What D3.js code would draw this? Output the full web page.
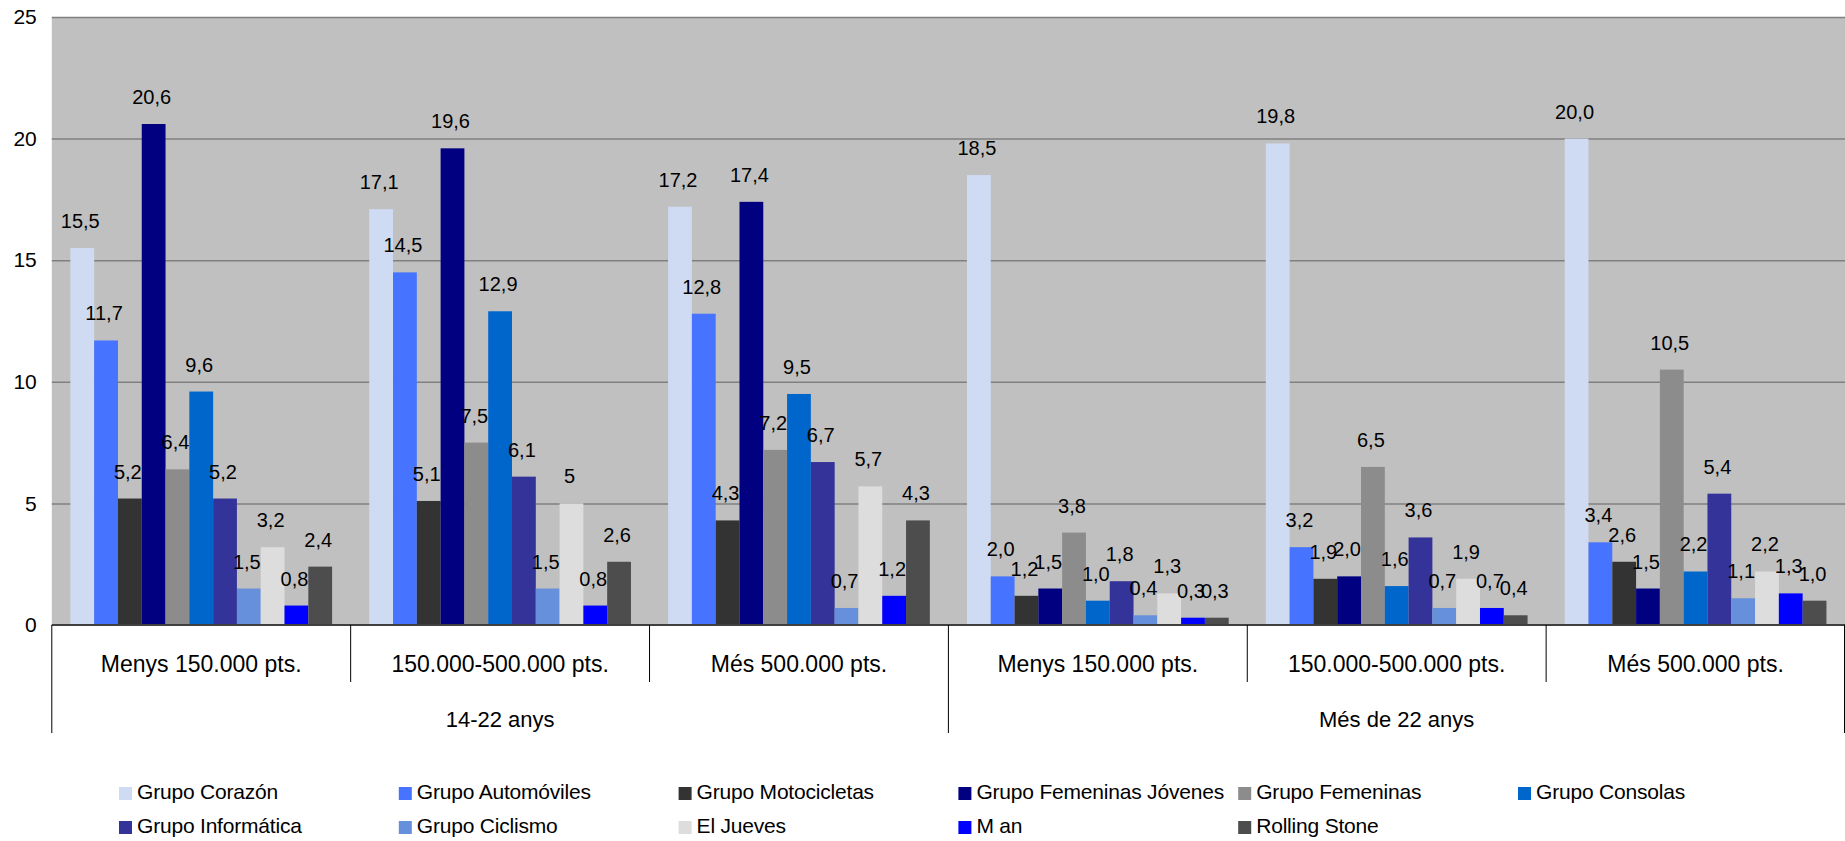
<!DOCTYPE html>
<html>
<head>
<meta charset="utf-8">
<script src="https://cdn.jsdelivr.net/npm/d3@7"></script>
<style>
html,body{margin:0;padding:0;background:#fff;}
svg{display:block;font-family:"Liberation Sans",Arial,Helvetica,sans-serif;}
</style>
</head>
<body>
<svg id="chart" width="1845" height="841"></svg>
<script>
// ---------- DATA ----------
const groups = ["14-22 anys", "Més de 22 anys"];
const incomeLabels = ["Menys 150.000 pts.", "150.000-500.000 pts.", "Més 500.000 pts."];
const categoryGroup = [0, 0, 0, 1, 1, 1];
const categoryIncome = [0, 1, 2, 0, 1, 2];
const labelDecimals = [null, null, null, 1, 1, 1]; // null = general format
const seriesNames = ["Grupo Corazón", "Grupo Automóviles", "Grupo Motocicletas", "Grupo Femeninas Jóvenes",
  "Grupo Femeninas", "Grupo Consolas", "Grupo Informática", "Grupo Ciclismo", "El Jueves", "M an", "Rolling Stone"];
const seriesColors = ["#CFDBF3", "#4673FF", "#333333", "#000080", "#8C8C8C", "#0066CC",
  "#333399", "#6690DB", "#DDDDDD", "#0000FF", "#4D4D4D"];
const grupoCorazon      = [15.5, 17.1, 17.2, 18.5, 19.8, 20.0];
const grupoAutomoviles  = [11.7, 14.5, 12.8, 2.0, 3.2, 3.4];
const grupoMotocicletas = [5.2, 5.1, 4.3, 1.2, 1.9, 2.6];
const grupoFemJovenes   = [20.6, 19.6, 17.4, 1.5, 2.0, 1.5];
const grupoFemeninas    = [6.4, 7.5, 7.2, 3.8, 6.5, 10.5];
const grupoConsolas     = [9.6, 12.9, 9.5, 1.0, 1.6, 2.2];
const grupoInformatica  = [5.2, 6.1, 6.7, 1.8, 3.6, 5.4];
const grupoCiclismo     = [1.5, 1.5, 0.7, 0.4, 0.7, 1.1];
const elJueves          = [3.2, 5, 5.7, 1.3, 1.9, 2.2];
const man               = [0.8, 0.8, 1.2, 0.3, 0.7, 1.3];
const rollingStone      = [2.4, 2.6, 4.3, 0.3, 0.4, 1.0];
const yTicks = [0, 5, 10, 15, 20, 25];

const seriesValues = [grupoCorazon, grupoAutomoviles, grupoMotocicletas, grupoFemJovenes, grupoFemeninas,
  grupoConsolas, grupoInformatica, grupoCiclismo, elJueves, man, rollingStone];

// ---------- LAYOUT ----------
const W = 1845, H = 841;
const plotLeft = 51.8, plotRight = 1845, plotTop = 17, plotBottom = 625;

const svg = d3.select("#chart");

const catIdx = d3.range(incomeLabels.length * groups.length);
const x0 = d3.scaleBand().domain(catIdx).range([plotLeft, plotRight]).padding(0);
const x1 = d3.scaleBand().domain(d3.range(seriesNames.length)).range([0, x0.bandwidth()])
  .paddingInner(0).paddingOuter(0.78);
const y = d3.scaleLinear().domain([0, 25]).range([plotBottom, plotTop]);

// plot background
svg.append("rect").attr("x", plotLeft).attr("y", plotTop)
  .attr("width", plotRight - plotLeft).attr("height", plotBottom - plotTop)
  .attr("fill", "#C0C0C0");

// gridlines
const grid = svg.append("g").attr("transform", `translate(${plotLeft},0)`)
  .call(d3.axisLeft(y).tickValues(yTicks.filter(d => d > 0)).tickSize(-(plotRight - plotLeft)).tickFormat(""));
grid.select(".domain").remove();
grid.selectAll("line").attr("stroke", "#808080").attr("stroke-width", 1.5);

// y tick labels
const yAxis = svg.append("g").attr("transform", `translate(${plotLeft},0)`)
  .call(d3.axisLeft(y).tickValues(yTicks).tickSize(0).tickPadding(15).tickFormat(d3.format("d")));
yAxis.select(".domain").remove();
yAxis.selectAll("text").attr("font-size", 21).attr("fill", "#000")
  .attr("font-family", "'Liberation Sans', Arial, sans-serif");

// bars
const fmt = (v, ci) => labelDecimals[ci] == null ? String(v).replace(".", ",") : v.toFixed(labelDecimals[ci]).replace(".", ",");

const cats = svg.append("g").selectAll("g").data(catIdx).join("g")
  .attr("transform", ci => `translate(${x0(ci)},0)`);

cats.selectAll("rect").data(ci => seriesValues.map((vals, si) => ({ci, si, v: vals[ci]}))).join("rect")
  .attr("x", d => x1(d.si)).attr("width", x1.bandwidth())
  .attr("y", d => y(d.v)).attr("height", d => y(0) - y(d.v))
  .attr("fill", d => seriesColors[d.si]);

cats.selectAll("text").data(ci => seriesValues.map((vals, si) => ({ci, si, v: vals[ci]}))).join("text")
  .attr("x", d => x1(d.si) + x1.bandwidth() / 2 - 2)
  .attr("y", d => y(d.v) - 20)
  .attr("text-anchor", "middle").attr("font-size", 20).attr("fill", "#000")
  .text(d => fmt(d.v, d.ci));

// baseline
svg.append("line").attr("x1", plotLeft).attr("x2", plotRight)
  .attr("y1", y(0)).attr("y2", y(0)).attr("stroke", "#404040").attr("stroke-width", 2);

// category axis dividers
const ticksG = svg.append("g").attr("stroke", "#000").attr("stroke-width", 1);
catIdx.forEach(ci => {
  const xx = x0(ci);
  const big = categoryIncome[ci] === 0;
  ticksG.append("line").attr("x1", xx).attr("x2", xx)
    .attr("y1", y(0)).attr("y2", big ? 733 : 682);
});
ticksG.append("line").attr("x1", plotRight - 0.5).attr("x2", plotRight - 0.5).attr("y1", y(0)).attr("y2", 733);

// category labels
svg.append("g").selectAll("text").data(catIdx).join("text")
  .attr("x", ci => x0(ci) + x0.bandwidth() / 2)
  .attr("y", 672)
  .attr("text-anchor", "middle").attr("font-size", 23).attr("fill", "#000")
  .text(ci => incomeLabels[categoryIncome[ci]]);

// group labels
svg.append("g").selectAll("text").data(groups).join("text")
  .attr("x", (g, gi) => {
    const cs = catIdx.filter(ci => categoryGroup[ci] === gi);
    return (x0(cs[0]) + x0(cs[cs.length - 1]) + x0.bandwidth()) / 2;
  })
  .attr("y", 727)
  .attr("text-anchor", "middle").attr("font-size", 22).attr("fill", "#000")
  .text(g => g);

// legend
const legendX0 = 119, legendColStep = 279.8, legendRowY = [787, 821];
const leg = svg.append("g").selectAll("g").data(seriesNames).join("g")
  .attr("transform", (d, i) => `translate(${legendX0 + (i % 6) * legendColStep},${legendRowY[Math.floor(i / 6)]})`);
leg.append("rect").attr("width", 13).attr("height", 13).attr("fill", (d, i) => seriesColors[i]);
leg.append("text").attr("x", 18).attr("y", 11.5).attr("font-size", 21).attr("letter-spacing", -0.2)
  .attr("fill", "#000").text(d => d);
</script>
</body>
</html>
